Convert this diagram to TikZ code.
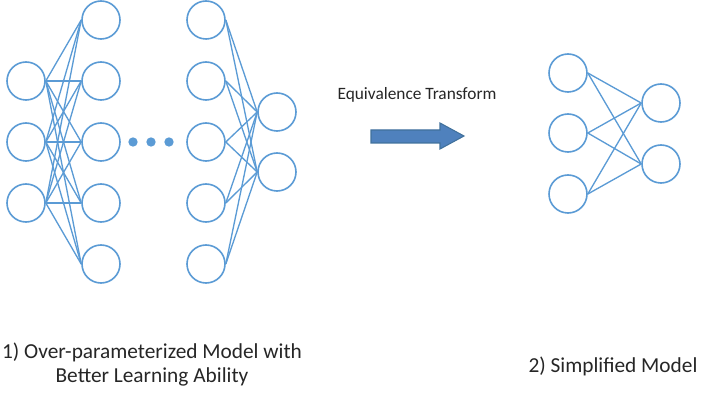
\documentclass[tikz,border=0pt]{standalone}
\usepackage{fontspec}
\setmainfont{Carlito}
\definecolor{netblue}{HTML}{5B9BD5}
\definecolor{arrowfill}{HTML}{4F81BD}
\definecolor{arrowline}{HTML}{41719C}
\definecolor{txt}{HTML}{262626}
\begin{document}
\begin{tikzpicture}[x=0.75pt,y=-0.75pt,
  neuron/.style={circle,draw=netblue,line width=1.2pt,minimum size=28.5pt,inner sep=0pt,fill=white},
  link/.style={draw=netblue,line width=1pt},
  dot/.style={circle,fill=netblue,minimum size=7pt,inner sep=0pt},
  lbl/.style={text=txt,font=\fontsize{16}{18}\selectfont,align=center}]
\useasboundingbox (0,0) rectangle (703,395);

% over-parameterized network: input column
\foreach \i/\y in {1/81,2/142,3/203} \node[neuron] (a\i) at (26,\y) {};
% first hidden column
\foreach \i/\y in {1/20,2/81,3/142,4/203,5/264} \node[neuron] (b\i) at (101,\y) {};
% last hidden column
\foreach \i/\y in {1/20,2/81,3/142,4/203,5/264} \node[neuron] (c\i) at (206,\y) {};
% output column
\foreach \i/\y in {1/112,2/172} \node[neuron] (d\i) at (277,\y) {};

\foreach \i in {1,2,3} \foreach \j in {1,...,5} \draw[link] (a\i.east) -- (b\j.west);
\foreach \i in {1,...,5} \foreach \j in {1,2} \draw[link] (c\i.east) -- (d\j.west);

% ellipsis between the hidden layers
\node[dot] (e1) at (133,142) {};
\node[dot] (e2) at (151,142) {};
\node[dot] (e3) at (169,142) {};

% transform arrow
\filldraw[fill=arrowfill,draw=arrowline,line width=0.8pt,line join=miter]
  (371,130) -- (440,130) -- (440,123) -- (464,136) -- (440,149) -- (440,143) -- (371,143) -- cycle;
\node[text=txt,font=\fontsize{13}{15}\selectfont] (eqt) at (417,95) {Equivalence Transform};

% simplified network
\foreach \i/\y in {1/73,2/133,3/194} \node[neuron] (s\i) at (568,\y) {};
\foreach \i/\y in {1/103,2/164} \node[neuron] (t\i) at (661,\y) {};
\foreach \i in {1,2,3} \foreach \j in {1,2} \draw[link] (s\i.east) -- (t\j.west);

% captions
\node[lbl] (cap1) at (152,365) {1) Over-parameterized Model with\\Better Learning Ability};
\node[lbl] (cap2) at (613,366) {2) Simplified Model};
\end{tikzpicture}
\end{document}
